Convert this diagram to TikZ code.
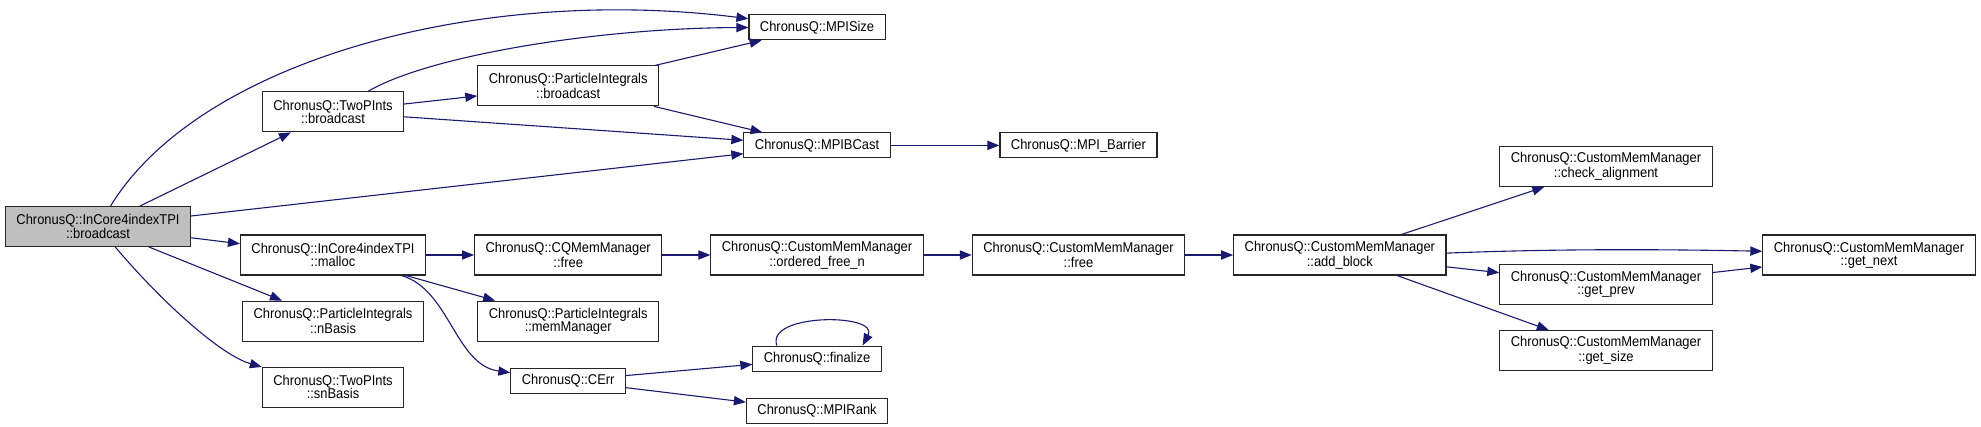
\documentclass[tikz,border=0pt]{standalone}
\usepackage{fontspec}
\setmainfont{Liberation Sans}[FakeStretch=0.91]
\usepackage{tikz}
\usetikzlibrary{arrows.meta,positioning}
\usepackage{xcolor}
\definecolor{EdgeBlue}{RGB}{25,25,112}
\definecolor{MainGray}{RGB}{191,191,191}
\tikzset{
  funcbox/.style={draw=black!85,line width=0.55pt,fill=white,align=center,
    inner xsep=5.5pt,inner ysep=1pt,minimum height=20pt,
    font=\fontsize{7.1}{6.6}\selectfont},
  onelinebox/.style={funcbox,minimum height=12.5pt},
  mainbox/.style={funcbox,fill=MainGray},
  callarrow/.style={-{Triangle[length=6pt,width=4.6pt]},
    line width=0.55pt,draw=EdgeBlue},
}

\begin{document}
\begin{tikzpicture}[x=0.5pt,y=-0.5pt]
    \useasboundingbox (0,0) rectangle (1981,427);
    % caller
    \node[mainbox] (main) at (98,226.5) {ChronusQ::InCore4indexTPI\\::broadcast};
    % first rank
    \node[funcbox] (malloc) at (333,255) {ChronusQ::InCore4indexTPI\\::malloc};
    \node[funcbox] (tpbc) [above=51pt of malloc] {ChronusQ::TwoPInts\\::broadcast};
    \node[funcbox] (nbasis) [below=12.5pt of malloc] {ChronusQ::ParticleIntegrals\\::nBasis};
    \node[funcbox] (snbasis) [below=12.5pt of nbasis] {ChronusQ::TwoPInts\\::snBasis};
    % second rank
    \node[funcbox] (cqfree) [right=24pt of malloc] {ChronusQ::CQMemManager\\::free};
    \node[funcbox] (pibc) [above=64pt of cqfree] {ChronusQ::ParticleIntegrals\\::broadcast};
    \node[funcbox] (memman) [below=12.5pt of cqfree] {ChronusQ::ParticleIntegrals\\::memManager};
    \node[onelinebox] (cerr) [below=13pt of memman] {ChronusQ::CErr};
    % third rank
    \node[funcbox] (ordfree) [right=24pt of cqfree] {ChronusQ::CustomMemManager\\::ordered\_free\_n};
    \node[onelinebox] (mpibcast) [above=38pt of ordfree] {ChronusQ::MPIBCast};
    \node[onelinebox] (mpisize) [above=46pt of mpibcast] {ChronusQ::MPISize};
    \node[onelinebox] (finalize) [below=35pt of ordfree] {ChronusQ::finalize};
    \node[onelinebox] (mpirank) [below=13pt of finalize] {ChronusQ::MPIRank};
    % fourth and fifth rank
    \node[funcbox] (cmfree) [right=24pt of ordfree] {ChronusQ::CustomMemManager\\::free};
    \node[onelinebox] (barrier) [above=38pt of cmfree] {ChronusQ::MPI\_Barrier};
    \node[funcbox] (addblock) [right=24pt of cmfree] {ChronusQ::CustomMemManager\\::add\_block};
    % last ranks
    \node[funcbox] (getprev) at (1606,284.5) {ChronusQ::CustomMemManager\\::get\_prev};
    \node[funcbox] (checkal) [above=38.5pt of getprev] {ChronusQ::CustomMemManager\\::check\_alignment};
    \node[funcbox] (getsize) [below=12.5pt of getprev] {ChronusQ::CustomMemManager\\::get\_size};
    \node[funcbox] (getnext) at (1869,255) {ChronusQ::CustomMemManager\\::get\_next};

    % calls
    \draw[callarrow] (main) .. controls (200,60) and (480,-15) .. (mpisize);
    \draw[callarrow] (main) -- (tpbc);
    \draw[callarrow] (main) -- (mpibcast);
    \draw[callarrow] (main) -- (malloc);
    \draw[callarrow] (main) -- (nbasis);
    \draw[callarrow] (main) .. controls (160,300) and (220,355) .. (snbasis);
    \draw[callarrow] (tpbc) .. controls (430,55) and (600,28) .. (mpisize);
    \draw[callarrow] (tpbc) -- (pibc);
    \draw[callarrow] (tpbc) -- (mpibcast);
    \draw[callarrow] (pibc) -- (mpisize);
    \draw[callarrow] (pibc) -- (mpibcast);
    \draw[callarrow] (mpibcast) -- (barrier);
    \draw[callarrow] (malloc) -- (cqfree);
    \draw[callarrow] (malloc) -- (memman);
    \draw[callarrow] (malloc) .. controls (450,290) and (455,365) .. (cerr);
    \draw[callarrow] (cqfree) -- (ordfree);
    \draw[callarrow] (ordfree) -- (cmfree);
    \draw[callarrow] (cmfree) -- (addblock);
    \draw[callarrow] (cerr) -- (finalize);
    \draw[callarrow] (cerr) -- (mpirank);
    \draw[callarrow] (finalize.162) .. controls (765,313) and (880,313) .. (finalize.16);
    \draw[callarrow] (addblock) -- (checkal);
    \draw[callarrow] (addblock.1.5) .. controls (1550,249) and (1650,249) .. (getnext.178.5);
    \draw[callarrow] (addblock) -- (getprev);
    \draw[callarrow] (addblock) -- (getsize);
    \draw[callarrow] (getprev) -- (getnext);
\end{tikzpicture}
\end{document}
